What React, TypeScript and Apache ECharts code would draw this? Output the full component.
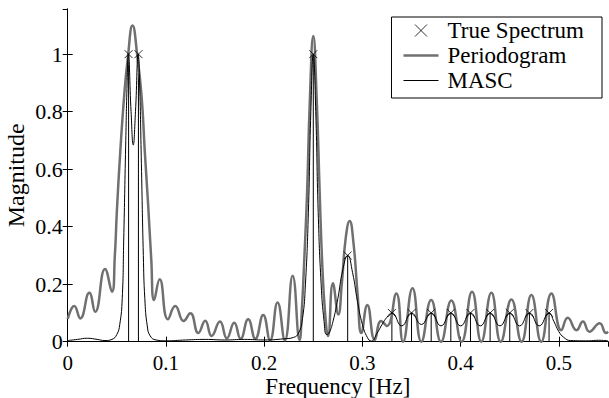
import React, { useEffect, useRef } from "react";
import * as echarts from "echarts";

// True spectrum lines (frequency, magnitude)
const trueFreq = [0.062, 0.072, 0.25, 0.285, 0.33, 0.35, 0.37, 0.39, 0.41, 0.43, 0.45, 0.47, 0.49];
const trueMag = [1, 1, 1, 0.3, 0.1, 0.1, 0.1, 0.1, 0.1, 0.1, 0.1, 0.1, 0.1];

// Periodogram (peaks and troughs)
const perFreq = [
  0.0, 0.0067, 0.0128, 0.022, 0.028, 0.038, 0.045, 0.048, 0.05, 0.0535, 0.0576, 0.061, 0.066, 0.071,
  0.0753, 0.0785, 0.082, 0.085, 0.088, 0.0936, 0.102, 0.1095, 0.118, 0.1248, 0.133, 0.14, 0.1465,
  0.155, 0.162, 0.1695, 0.176, 0.1837, 0.191, 0.199, 0.206, 0.2136, 0.221, 0.229, 0.236, 0.2385,
  0.241, 0.2437, 0.2465, 0.25, 0.2535, 0.2565, 0.259, 0.262, 0.265, 0.27, 0.2755, 0.279, 0.283,
  0.287, 0.291, 0.295, 0.299, 0.305, 0.3126, 0.319, 0.325, 0.3345, 0.3414, 0.351, 0.36, 0.37, 0.38,
  0.3905, 0.401, 0.4116, 0.421, 0.4313, 0.4408, 0.4517, 0.462, 0.472, 0.482, 0.4924, 0.5025, 0.509,
  0.518, 0.5245, 0.531, 0.5415, 0.548, 0.55,
];
const perMag = [
  0.079, 0.124, 0.081, 0.17, 0.104, 0.253, 0.174, 0.3, 0.45, 0.66, 0.86, 0.98, 1.1, 0.99,
  0.85, 0.66, 0.47, 0.29, 0.145, 0.217, 0.078, 0.124, 0.072, 0.099, 0.03, 0.073, 0.02,
  0.07, 0.012, 0.066, 0.01, 0.078, 0.01, 0.093, 0.005, 0.136, 0.005, 0.229, 0.006, 0.12,
  0.3, 0.52, 0.84, 1.063, 0.84, 0.52, 0.28, 0.1, 0.02, 0.203, 0.095, 0.2, 0.36,
  0.42, 0.34, 0.17, 0.03, 0.128, 0.006, 0.072, 0.055, 0.168, 0.0, 0.186, 0.0, 0.145, 0.0,
  0.143, 0.0, 0.174, 0.0, 0.17, 0.0, 0.147, 0.0, 0.162, 0.0, 0.168, 0.04, 0.083,
  0.04, 0.07, 0.035, 0.064, 0.03, 0.035,
];

// MASC estimate
const mascFreq = [
  0.0, 0.01, 0.02, 0.03, 0.038, 0.045, 0.05, 0.053, 0.0555, 0.057, 0.059, 0.0605, 0.0617, 0.0645,
  0.0667, 0.069, 0.0718, 0.0732, 0.075, 0.077, 0.0785, 0.081, 0.084, 0.09, 0.1, 0.12, 0.14, 0.16,
  0.18, 0.2, 0.22, 0.23, 0.235, 0.239, 0.242, 0.245, 0.2475, 0.25, 0.2525, 0.255, 0.258, 0.261,
  0.2635, 0.266, 0.27, 0.275, 0.28, 0.285, 0.29, 0.295, 0.3, 0.305, 0.309, 0.315, 0.32, 0.325,
  0.33, 0.34, 0.35, 0.36, 0.37, 0.38, 0.39, 0.4, 0.41, 0.42, 0.43, 0.44, 0.45, 0.46, 0.47, 0.48,
  0.49, 0.495, 0.5, 0.505, 0.512, 0.53, 0.54, 0.55,
];
const mascMag = [
  0.004, 0.008, 0.012, 0.008, 0.004, 0.008, 0.025, 0.06, 0.15, 0.35, 0.68, 0.9, 1.0, 0.8,
  0.684, 0.8, 1.0, 0.9, 0.62, 0.3, 0.15, 0.055, 0.02, 0.006, 0.003, 0.006, 0.008, 0.006,
  0.008, 0.006, 0.01, 0.015, 0.03, 0.08, 0.2, 0.45, 0.8, 1.0, 0.8, 0.45, 0.2, 0.07,
  0.025, 0.03, 0.07, 0.15, 0.25, 0.3, 0.24, 0.14, 0.06, 0.015, 0.002, 0.03, 0.06, 0.085,
  0.1, 0.055, 0.1, 0.06, 0.1, 0.055, 0.1, 0.055, 0.1, 0.055, 0.1, 0.055, 0.1, 0.055, 0.1, 0.055,
  0.1, 0.07, 0.035, 0.015, 0.004, 0.003, 0.005, 0.003,
];

const xTicks = { min: 0, max: 0.55, interval: 0.1 };
const yTicks = { min: 0, max: 1.157, interval: 0.2 };

const FONT = "Liberation Serif";
const X_PATH = "path://M0,0L10,10M10,0L0,10";
const THICK_ICON = "path://M0,0L35,0L35,2.5L0,2.5Z";
const THIN_ICON = "path://M0,0L35,0L35,1L0,1Z";

export default function App() {
  const ref = useRef<HTMLDivElement>(null);
  useEffect(() => {
    if (!ref.current) return;
    const chart = echarts.init(ref.current, undefined, { renderer: "svg" });
    const pairs = (xs: number[], ys: number[]) => xs.map((x, i) => [x, ys[i]]);
    const tick = { show: true, inside: true, length: 5, lineStyle: { color: "#000", width: 1 } };
    const axLine = { show: true, lineStyle: { color: "#000", width: 1 } };
    chart.setOption({
      animation: false,
      backgroundColor: "#fff",
      grid: { left: 67.7, right: 1, top: 9, bottom: 56.3, containLabel: false, outerBoundsMode: "none" },
      legend: {
        orient: "vertical",
        right: 7,
        top: 17,
        padding: [2, 18, 6, 12],
        itemGap: 2,
        itemWidth: 35,
        itemHeight: 12,
        borderColor: "#000",
        borderWidth: 1,
        borderRadius: 0,
        backgroundColor: "#fff",
        textStyle: { fontFamily: FONT, fontSize: 23, lineHeight: 23, color: "#000", padding: [0, 0, 0, 4] },
        data: [
          { name: "True Spectrum", icon: X_PATH, itemStyle: { color: "transparent", borderColor: "#000", borderWidth: 1 } },
          { name: "Periodogram", icon: THICK_ICON, itemStyle: { color: "#707070", borderWidth: 0 } },
          { name: "MASC", icon: THIN_ICON, itemStyle: { color: "#000", borderWidth: 0 } },
        ],
      },
      xAxis: [
        {
          type: "value",
          ...xTicks,
          name: "Frequency [Hz]",
          nameLocation: "middle",
          nameGap: 33,
          nameMoveOverlap: false,
          nameTextStyle: { fontFamily: FONT, fontSize: 23, color: "#000" },
          axisLine: axLine,
          axisTick: tick,
          splitLine: { show: false },
          axisLabel: { fontFamily: FONT, fontSize: 21, color: "#000", margin: 11, showMaxLabel: false },
        },
        {
          type: "value",
          position: "top",
          ...xTicks,
          axisLine: axLine,
          axisTick: tick,
          splitLine: { show: false },
          axisLabel: { show: false },
        },
      ],
      yAxis: [
        {
          type: "value",
          ...yTicks,
          name: "Magnitude",
          nameLocation: "middle",
          nameGap: 40,
          nameMoveOverlap: false,
          nameTextStyle: { fontFamily: FONT, fontSize: 24, color: "#000" },
          axisLine: axLine,
          axisTick: tick,
          splitLine: { show: false },
          axisLabel: { fontFamily: FONT, fontSize: 22, color: "#000", margin: 5, showMaxLabel: false },
        },
        {
          type: "value",
          position: "right",
          ...yTicks,
          axisLine: axLine,
          axisTick: tick,
          splitLine: { show: false },
          axisLabel: { show: false },
        },
      ],
      series: [
        {
          type: "custom",
          name: "stems",
          silent: true,
          z: 2,
          renderItem: (params: any, api: any) => {
            const x = api.value(0);
            const y = api.value(1);
            const p0 = api.coord([x, 0]);
            const p1 = api.coord([x, y]);
            return {
              type: "line",
              shape: { x1: p0[0], y1: p0[1], x2: p1[0], y2: p1[1] },
              style: { stroke: "#000", lineWidth: 1 },
            };
          },
          data: pairs(trueFreq, trueMag),
        },
        {
          type: "line",
          name: "Periodogram",
          z: 3,
          data: pairs(perFreq, perMag),
          smooth: 0.5,
          symbol: "none",
          lineStyle: { color: "#707070", width: 2.5 },
          itemStyle: { color: "#707070" },
        },
        {
          type: "line",
          name: "MASC",
          z: 4,
          data: pairs(mascFreq, mascMag),
          smooth: 0.5,
          symbol: "none",
          lineStyle: { color: "#000", width: 1 },
          itemStyle: { color: "#000" },
        },
        {
          type: "scatter",
          name: "True Spectrum",
          z: 5,
          data: pairs(trueFreq, trueMag),
          symbol: X_PATH,
          symbolSize: 8,
          itemStyle: { color: "transparent", borderColor: "#000", borderWidth: 1 },
        },
      ],
    });
    return () => chart.dispose();
  }, []);
  return (
    <div
      ref={ref}
      style={{ position: "fixed", left: 0, top: 0, width: 609, height: 398, background: "#fff" }}
    />
  );
}
